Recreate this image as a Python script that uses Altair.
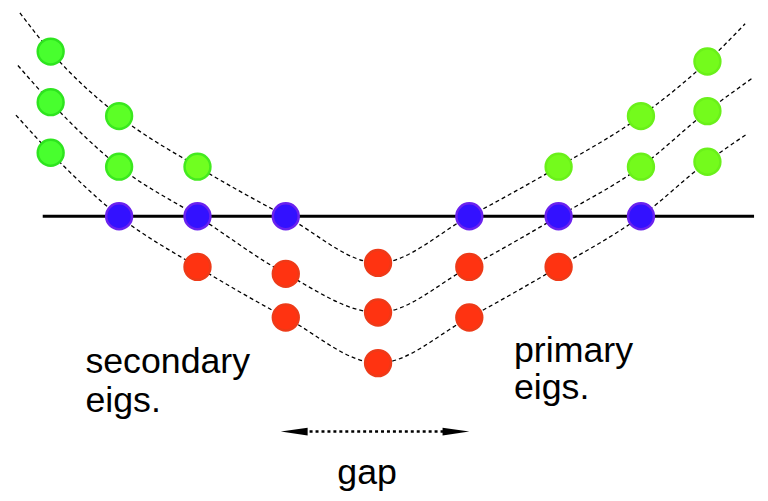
import altair as alt
import pandas as pd

# column positions of the parameter (horizontal) and eigenvalue levels per curve
cols_x = [51, 120, 199, 288, 381, 473, 563, 646, 713]
curve_A = [166, 101, 50, 0, -47, 0, 50, 101, 156]
curve_B = [115, 50, 0, -58, -97, -51, 0, 50, 106]
curve_C = [64, 0, -51, -102, -148, -102, -51, 0, 55]
curves = {"A": curve_A, "B": curve_B, "C": curve_C}

end_left_x = {"A": 20, "B": 18, "C": 16}
end_left_y = {"A": 205, "B": 152, "C": 102}
end_right_x = {"A": 751, "B": 758, "C": 753}
end_right_y = {"A": 194, "B": 139, "C": 83}

green_fill = ["#48ff2e", "#5cff26", "#70ff20", "#72fb1c", "#72fb1c", "#72fb1c", "#74fb1c", "#74fb1c", "#74fb1c"]
green_stroke = ["#2ee41f", "#3ae81f", "#44ea1f", "#66f01a", "#66f01a", "#66f01a", "#6af01a", "#6af01a", "#6af01a"]
blue_fill, blue_stroke = "#3311ff", "#6a22ee"
red_fill, red_stroke = "#ff3311", "#ee3a18"

zero_line_x = [43, 760]
zero_line_y = [0, 0]

label_x = [86, 86, 518, 518, 370]
label_y = [-158, -197, -147, -184, -270]
label_text = ["secondary", "eigs.", "primary", "eigs.", "gap"]
label_align = ["left", "left", "left", "left", "center"]

arrow_x = [300, 456]
arrow_y = [-217, -217]
head_x = [296.5, 459.5]
head_dir = ["left", "right"]

line_rows = []
point_rows = []
for name, vals in curves.items():
    line_rows.append({"curve": name, "x": end_left_x[name], "y": end_left_y[name], "o": 0})
    for i, (x, v) in enumerate(zip(cols_x, vals)):
        line_rows.append({"curve": name, "x": x, "y": v, "o": i + 1})
        if v > 0:
            f, s = green_fill[i], green_stroke[i]
        elif v == 0:
            f, s = blue_fill, blue_stroke
        else:
            f, s = red_fill, red_stroke
        point_rows.append({"curve": name, "x": x, "y": v, "fill": f, "stroke": s})
    line_rows.append({"curve": name, "x": end_right_x[name], "y": end_right_y[name], "o": 20})

lines_df = pd.DataFrame(line_rows)
points_df = pd.DataFrame(point_rows)
zero_df = pd.DataFrame({"x": zero_line_x, "y": zero_line_y})
labels_df = pd.DataFrame({"x": label_x, "y": label_y, "t": label_text, "a": label_align})
arrow_df = pd.DataFrame({"x": arrow_x, "y": arrow_y})
heads_df = pd.DataFrame({"x": head_x, "y": [arrow_y[0]] * 2, "d": head_dir})

xs = alt.Scale(domain=[8, 760], nice=False, zero=False)
ys = alt.Scale(domain=[-278, 207], nice=False, zero=False)
X = lambda: alt.X("x:Q", scale=xs, axis=None)
Y = lambda: alt.Y("y:Q", scale=ys, axis=None)

dashed = alt.Chart(lines_df).mark_line(
    color="black", strokeWidth=1.3, strokeDash=[4, 3], interpolate="monotone"
).encode(x=X(), y=Y(), detail="curve:N", order="o:Q")

zero = alt.Chart(zero_df).mark_line(color="black", strokeWidth=3).encode(x=X(), y=Y())

pts = alt.Chart(points_df).mark_point(
    filled=True, shape="circle", size=680, opacity=1, strokeWidth=2.5
).encode(
    x=X(), y=Y(),
    fill=alt.Fill("fill:N", scale=None),
    stroke=alt.Stroke("stroke:N", scale=None),
)

texts_left = alt.Chart(labels_df[labels_df.a == "left"]).mark_text(
    align="left", baseline="alphabetic", font="Liberation Sans", fontSize=36, color="black"
).encode(x=X(), y=Y(), text="t:N")

texts_center = alt.Chart(labels_df[labels_df.a == "center"]).mark_text(
    align="center", baseline="alphabetic", font="Liberation Sans", fontSize=36, color="black", clip=True
).encode(x=X(), y=Y(), text="t:N")

arrow = alt.Chart(arrow_df).mark_line(color="black", strokeWidth=2.5, strokeDash=[3, 3]).encode(x=X(), y=Y())

head_l = alt.Chart(heads_df[heads_df.d == "left"]).mark_point(
    shape="M -1 0 L 1 -0.29 L 1 0.29 Z", filled=True, size=729, color="black", opacity=1
).encode(x=X(), y=Y())
head_r = alt.Chart(heads_df[heads_df.d == "right"]).mark_point(
    shape="M 1 0 L -1 -0.29 L -1 0.29 Z", filled=True, size=729, color="black", opacity=1
).encode(x=X(), y=Y())

chart = alt.layer(dashed, zero, pts, texts_left, texts_center, arrow, head_l, head_r).properties(
    width=752, height=485, padding=0, background="white"
).configure_view(stroke=None)

chart.save("out.html", embed_options={"renderer": "svg", "actions": False})
